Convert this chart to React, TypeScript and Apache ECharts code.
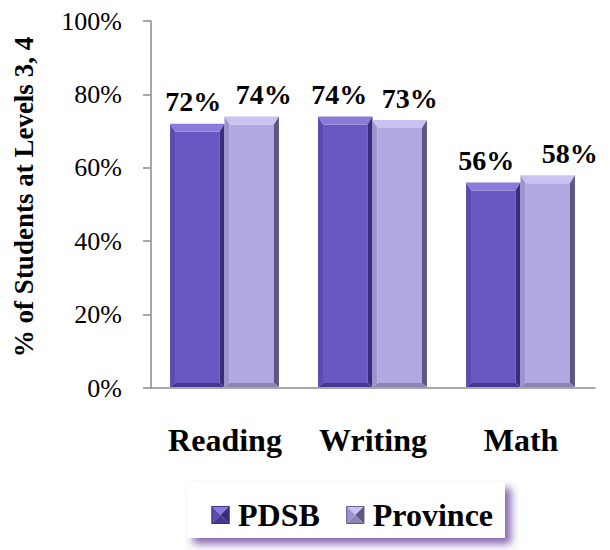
import React, { useEffect, useRef } from "react";
import * as echarts from "echarts";

const categories = ["Reading", "Writing", "Math"];
const seriesNames = ["PDSB", "Province"];
const pdsbValues = [72, 74, 56];
const provinceValues = [74, 73, 58];
const yTicks = [0, 20, 40, 60, 80, 100];

// layout constants (not data)
const LABEL_DX = [
  [-4, 12],
  [-6, 10],
  [-7, 22],
];
const FONT = "'Liberation Serif', 'Times New Roman', serif";

const PALETTES = [
  { face: "#6a57c2", top: "#8b7bd9", left: "#5c4ab0", right: "#3a2d7c", bottom: "#46388f" },
  { face: "#b1a7e1", top: "#cac2f0", left: "#9d93d0", right: "#5d5786", bottom: "#8c84b4" },
];

function pyramidIcon(p: { face: string; top: string; left: string; right: string; bottom: string }) {
  const svg = `<svg xmlns="http://www.w3.org/2000/svg" width="20" height="20" viewBox="0 0 20 20">` +
    `<polygon points="0,0 20,0 10,10" fill="${p.top}"/>` +
    `<polygon points="0,0 10,10 0,20" fill="${p.left}"/>` +
    `<polygon points="20,0 20,20 10,10" fill="${p.right}"/>` +
    `<polygon points="0,20 10,10 20,20" fill="${p.bottom}"/>` +
    `<rect x="0.5" y="0.5" width="19" height="19" fill="none" stroke="${p.right}" stroke-width="1"/>` +
    `</svg>`;
  return "image://data:image/svg+xml;charset=utf-8," + encodeURIComponent(svg);
}

function makeRenderItem(seriesIdx: number) {
  return (params: any, api: any) => {
    const cat = api.value(0);
    const val = api.value(1);
    const base = api.coord([cat, 0]);
    const topPt = api.coord([cat, val]);
    const band = api.size([1, 0])[0];
    const bw = band * 0.368;
    const x0 = base[0] - 0.5 + (seriesIdx === 0 ? -bw : 0);
    const x1 = x0 + bw;
    const y0 = topPt[1];
    const y1 = base[1] - 1;
    const t = 8, s = 5, b = 4;
    const p = PALETTES[seriesIdx];
    const dx = LABEL_DX[params.dataIndex][seriesIdx];
    return {
      type: "group",
      children: [
        { type: "rect", shape: { x: x0 + s, y: y0 + t, width: x1 - x0 - 2 * s, height: y1 - y0 - t - b }, style: { fill: p.face } },
        { type: "polygon", shape: { points: [[x0, y0], [x1, y0], [x1 - s, y0 + t], [x0 + s, y0 + t]] }, style: { fill: p.top } },
        { type: "polygon", shape: { points: [[x0, y0], [x0 + s, y0 + t], [x0 + s, y1 - b], [x0, y1]] }, style: { fill: p.left } },
        { type: "polygon", shape: { points: [[x1, y0], [x1, y1], [x1 - s, y1 - b], [x1 - s, y0 + t]] }, style: { fill: p.right } },
        { type: "polygon", shape: { points: [[x0, y1], [x0 + s, y1 - b], [x1 - s, y1 - b], [x1, y1]] }, style: { fill: p.bottom } },
        {
          type: "text",
          x: (x0 + x1) / 2 + dx,
          y: y0 - 8,
          style: {
            text: val + "%",
            fill: "#000",
            font: `bold 28px ${FONT}`,
            align: "center",
            verticalAlign: "bottom",
          },
        },
      ],
    };
  };
}

export default function App() {
  const ref = useRef<HTMLDivElement>(null);
  useEffect(() => {
    if (!ref.current) return;
    const chart = echarts.init(ref.current, undefined, { renderer: "svg" });
    const valuesList = [pdsbValues, provinceValues];
    chart.setOption({
      animation: false,
      backgroundColor: "#fff",
      grid: { left: 151, right: 15, top: 21, bottom: 162, containLabel: false },
      xAxis: {
        type: "category",
        data: categories,
        axisLine: { lineStyle: { color: "#8a8a8a", width: 1.5 } },
        axisTick: { length: 10, lineStyle: { color: "#8a8a8a", width: 1.5 } },
        axisLabel: { margin: 36, color: "#000", fontFamily: FONT, fontWeight: "bold", fontSize: 32 },
      },
      yAxis: {
        type: "value",
        min: yTicks[0],
        max: yTicks[yTicks.length - 1],
        interval: 20,
        axisLine: { show: true, lineStyle: { color: "#8a8a8a", width: 1.5 } },
        axisTick: { show: true, length: 8, lineStyle: { color: "#8a8a8a", width: 1.5 } },
        splitLine: { show: false },
        axisLabel: { margin: 29, color: "#000", fontFamily: FONT, fontSize: 26, formatter: "{value}%" },
      },
      legend: {
        left: 206,
        top: 494,
        itemWidth: 19,
        itemHeight: 18,
        itemGap: 26,
        textStyle: { fontFamily: FONT, fontWeight: "bold", fontSize: 32, color: "#000", padding: [0, 0, 0, 3] },
        data: seriesNames.map((n, i) => ({ name: n, icon: pyramidIcon(PALETTES[i]) })),
      },
      graphic: [
        {
          type: "rect",
          z: -1,
          shape: { x: 187, y: 482, width: 318, height: 56 },
          style: {
            fill: "#fff",
            shadowBlur: 8,
            shadowOffsetX: 6,
            shadowOffsetY: 6,
            shadowColor: "rgba(112,76,160,0.85)",
          },
        },
        {
          type: "text",
          x: 24,
          y: 197,
          rotation: Math.PI / 2,
          style: {
            text: "% of Students at Levels 3, 4",
            font: `bold 27px ${FONT}`,
            fill: "#000",
            align: "center",
            verticalAlign: "middle",
          },
        },
      ],
      series: seriesNames.map((name, si) => ({
        type: "custom",
        name,
        renderItem: makeRenderItem(si),
        itemStyle: { color: PALETTES[si].face },
        encode: { x: 0, y: 1 },
        data: valuesList[si].map((v, i) => [i, v]),
      })),
    });
    return () => chart.dispose();
  }, []);
  return <div ref={ref} style={{ width: 610, height: 550, position: "absolute", left: 0, top: 0 }} />;
}
